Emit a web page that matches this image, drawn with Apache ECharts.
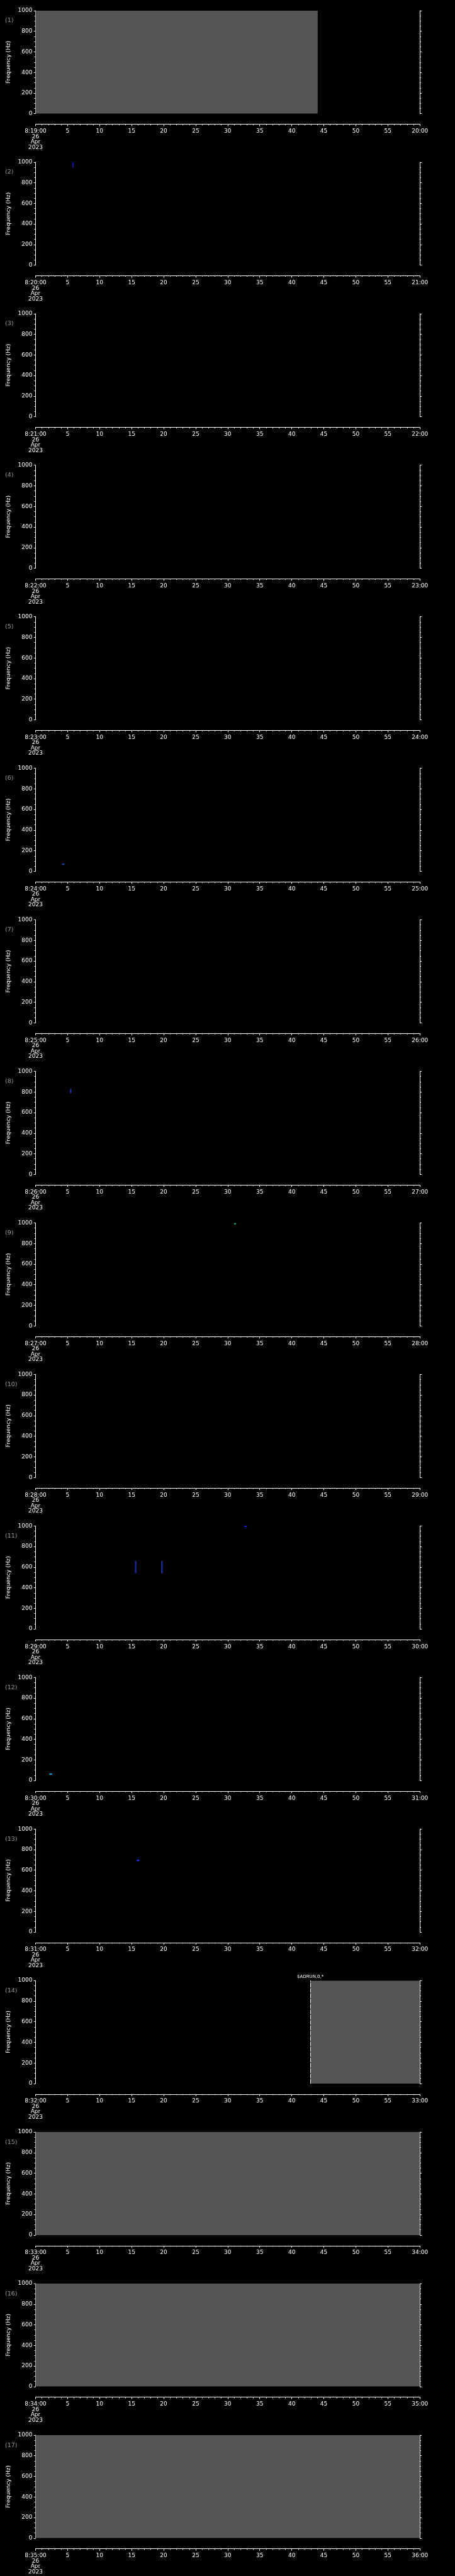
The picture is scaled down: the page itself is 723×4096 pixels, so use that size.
<!DOCTYPE html>
<html>
<head>
<meta charset="utf-8">
<script src="https://cdn.jsdelivr.net/npm/echarts@6/dist/echarts.min.js"></script>
<style>
  html, body { margin: 0; padding: 0; background: #000; }
  #chart { width: 723px; height: 4096px; }
</style>
</head>
<body>
<div id="chart"></div>
<script>
// one minute per panel, 17 panels
var startLabels = ['8:19:00', '8:20:00', '8:21:00', '8:22:00', '8:23:00', '8:24:00', '8:25:00', '8:26:00', '8:27:00',
                   '8:28:00', '8:29:00', '8:30:00', '8:31:00', '8:32:00', '8:33:00', '8:34:00', '8:35:00'];
var endLabels = ['20:00', '21:00', '22:00', '23:00', '24:00', '25:00', '26:00', '27:00', '28:00',
                 '29:00', '30:00', '31:00', '32:00', '33:00', '34:00', '35:00', '36:00'];
var panelNames = ['(1)', '(2)', '(3)', '(4)', '(5)', '(6)', '(7)', '(8)', '(9)',
                  '(10)', '(11)', '(12)', '(13)', '(14)', '(15)', '(16)', '(17)'];
var dateLines = ['26', 'Apr', '2023'];

// data gaps: [panel, t0 (s), t1 (s)]
var gapBlocks = [
  [0, 0, 44.05],
  [13, 42.9, 60],
  [14, 0, 60],
  [15, 0, 60],
  [16, 0, 60]
];
// spectrogram specks: [panel, t0, t1, f0 (Hz), f1 (Hz), colour]
var specks = [
  [1, 5.78, 5.92, 945, 1000, '#1818d8'],
  [5, 4.15, 4.5, 64, 72, '#0070ff'],
  [7, 5.4, 5.55, 790, 830, '#2040e0'],
  [8, 31.0, 31.3, 985, 1000, '#00b060'],
  [10, 15.5, 15.75, 540, 660, '#1a2a90'],
  [10, 19.6, 19.85, 540, 660, '#1a2a90'],
  [10, 32.6, 33.0, 990, 1000, '#1030ff'],
  [11, 2.15, 2.6, 57, 67, '#00c8ff'],
  [12, 15.8, 16.2, 688, 702, '#1030ff']
];
// annotations: [panel, t (s), text]
var annotations = [[13, 42.9, '$ADRUN,0,*']];

var FONT = 'DejaVu Sans';
var panelH = 4096 / 17;
var plotTop = 16.9, plotH = 163.8, plotLeft = 56.5, plotW = 610.7, xOffset = 16.9;

function renderRect(params, api) {
  var p0 = api.coord([api.value(0), api.value(3)]);
  var p1 = api.coord([api.value(1), api.value(2)]);
  return {
    type: 'rect',
    shape: { x: p0[0], y: p0[1], width: Math.max(p1[0] - p0[0], 1), height: Math.max(p1[1] - p0[1], 1) },
    style: { fill: api.visual('color') }
  };
}

var grids = [], xAxes = [], yAxes = [], series = [], graphics = [];

for (var i = 0; i < 17; i++) {
  var T = i * panelH;
  grids.push({ left: plotLeft, width: plotW, top: T + plotTop, height: plotH, containLabel: false, outerBoundsMode: 'none' });

  xAxes.push({
    type: 'value', gridIndex: i, min: 0, max: 60, interval: 5,
    position: 'bottom', offset: xOffset,
    axisLine: { show: true, onZero: false, lineStyle: { color: '#fff', width: 1 } },
    axisTick: { show: true, inside: false, length: 3, lineStyle: { color: '#fff' } },
    minorTick: { show: true, splitNumber: 5, length: 1.6, lineStyle: { color: '#fff' } },
    splitLine: { show: false },
    axisLabel: {
      color: '#fff', fontFamily: FONT, fontSize: 9, margin: 7, lineHeight: 8.5,
      showMinLabel: true, showMaxLabel: true,
      formatter: (function (k) {
        return function (v) {
          if (v === 0) return [startLabels[k]].concat(dateLines).join('\n');
          if (v === 60) return endLabels[k];
          return String(v);
        };
      })(i)
    }
  });

  var yCommon = {
    type: 'value', gridIndex: i, min: 0, max: 1000, interval: 200,
    axisLine: { show: true, onZero: false, lineStyle: { color: '#fff', width: 1 } },
    axisTick: { show: true, inside: false, length: 2.8, lineStyle: { color: '#fff' } },
    minorTick: { show: true, splitNumber: 4, length: 1.8, lineStyle: { color: '#fff' } },
    splitLine: { show: false }
  };
  yAxes.push(Object.assign({}, yCommon, {
    position: 'left',
    axisLabel: { color: '#fff', fontFamily: FONT, fontSize: 9, margin: 5, formatter: function (v) { return String(v); } },
    name: 'Frequency (Hz)', nameLocation: 'middle', nameGap: 35,
    nameTextStyle: { color: '#fff', fontFamily: FONT, fontSize: 9 }
  }));
  yAxes.push(Object.assign({}, yCommon, {
    position: 'right',
    axisLabel: { show: false }
  }));

  var items = [];
  gapBlocks.forEach(function (g) {
    if (g[0] === i) items.push({ value: [g[1], g[2], 0, 1000], itemStyle: { color: '#555555' } });
  });
  specks.forEach(function (s) {
    if (s[0] === i) items.push({ value: [s[1], s[2], s[3], s[4]], itemStyle: { color: s[5] } });
  });
  series.push({
    type: 'custom', xAxisIndex: i, yAxisIndex: 2 * i,
    renderItem: renderRect, encode: { x: [0, 1], y: [2, 3] },
    data: items, clip: true, silent: true, animation: false
  });

  annotations.forEach(function (a) {
    if (a[0] !== i) return;
    series.push({
      type: 'line', xAxisIndex: i, yAxisIndex: 2 * i, data: [], silent: true, animation: false,
      markLine: {
        silent: true, symbol: ['none', 'none'], animation: false,
        lineStyle: { color: '#fff', width: 1, type: [7, 1.5] },
        label: { show: true, position: 'end', distance: 2, formatter: a[2], color: '#fff', fontFamily: FONT, fontSize: 7 },
        data: [{ xAxis: a[1] }]
      }
    });
  });

  graphics.push({
    type: 'text', left: 8, top: T + 28, silent: true,
    style: { text: panelNames[i], fill: '#9a9a9a', font: '9.5px ' + FONT }
  });
}

var chart = echarts.init(document.getElementById('chart'), null, { renderer: 'canvas' });
chart.setOption({
  backgroundColor: '#000',
  animation: false,
  grid: grids,
  xAxis: xAxes,
  yAxis: yAxes,
  series: series,
  graphic: graphics
});
</script>
</body>
</html>
